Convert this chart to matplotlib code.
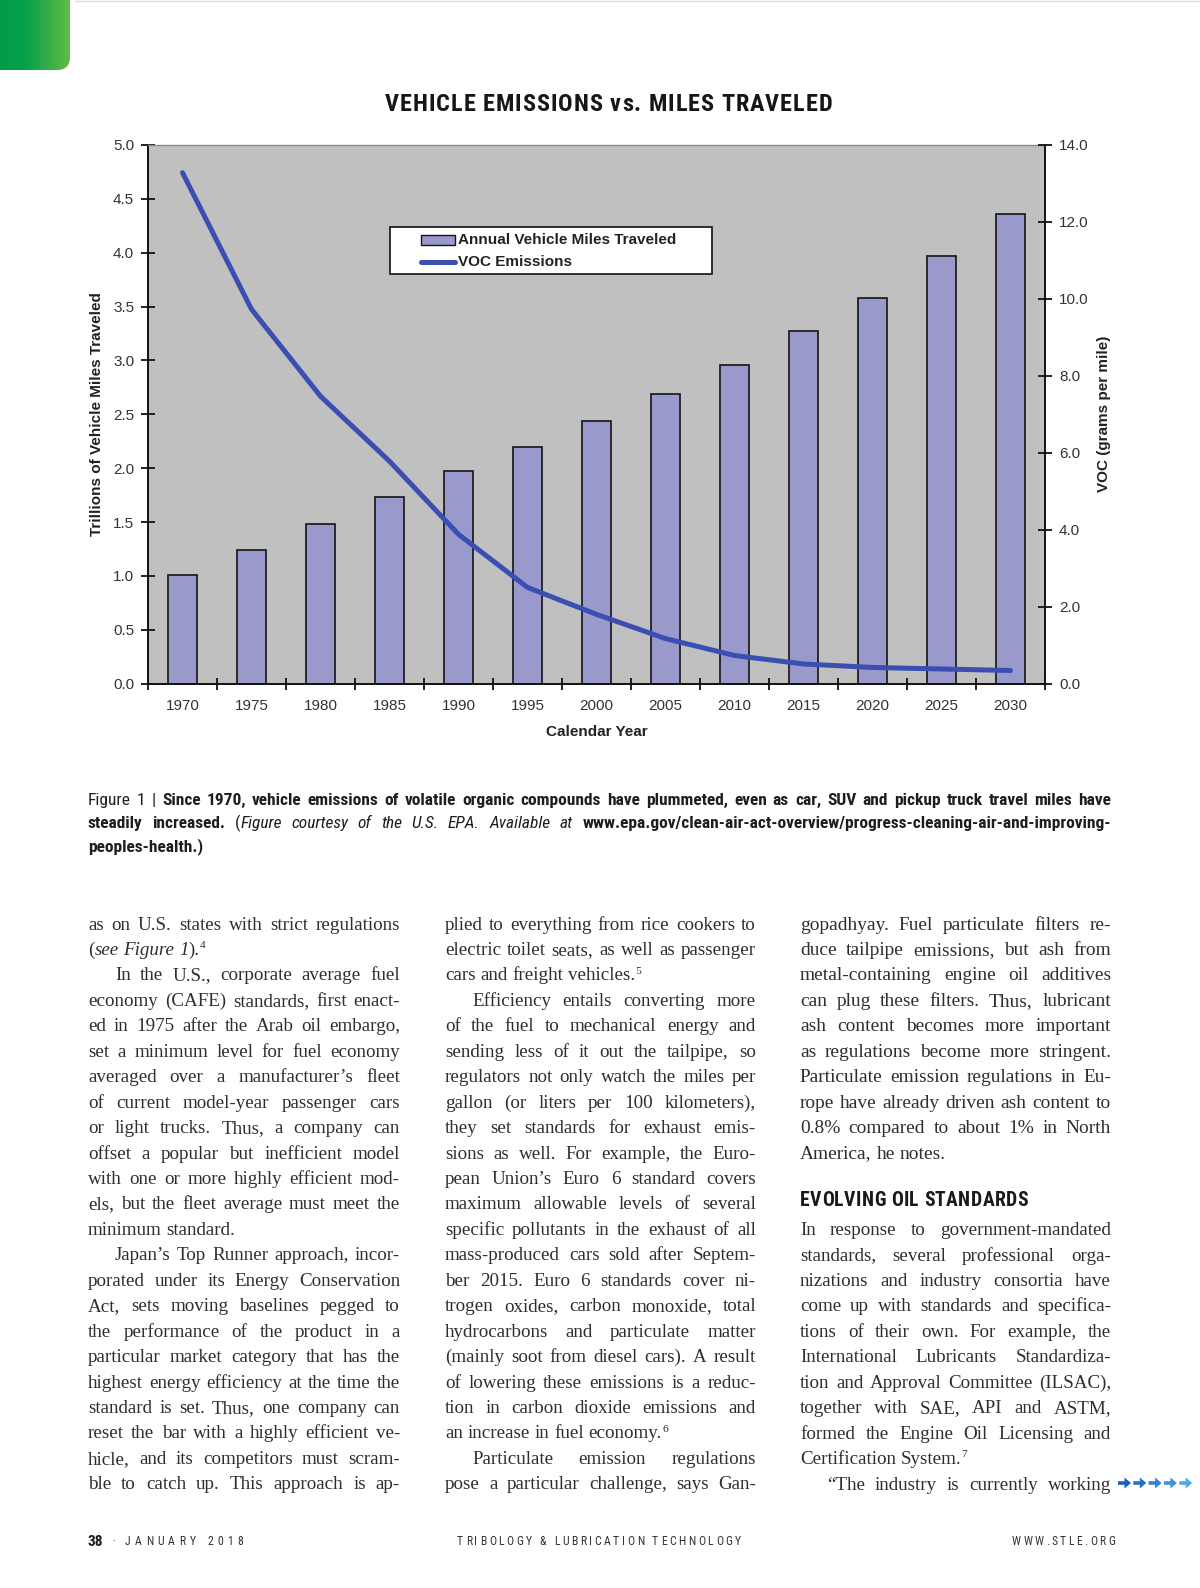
import numpy as np
import matplotlib
matplotlib.use("Agg")
import matplotlib.pyplot as plt
from matplotlib import font_manager
from matplotlib.font_manager import FontProperties, findfont, get_font
from matplotlib.patches import Rectangle, FancyBboxPatch, Polygon
from matplotlib.lines import Line2D
from matplotlib.colors import LinearSegmentedColormap

W, H = 1200, 1588

# ---- chart data ----
years = ["1970", "1975", "1980", "1985", "1990", "1995", "2000",
         "2005", "2010", "2015", "2020", "2025", "2030"]
miles_trillions = [1.01, 1.24, 1.48, 1.73, 1.97, 2.20, 2.44,
                   2.69, 2.96, 3.27, 3.58, 3.97, 4.36]
voc_g_per_mile = [13.28, 9.73, 7.47, 5.78, 3.88, 2.50, 1.80,
                  1.17, 0.73, 0.51, 0.42, 0.38, 0.34]
left_ticks = [0.0, 0.5, 1.0, 1.5, 2.0, 2.5, 3.0, 3.5, 4.0, 4.5, 5.0]
right_ticks = [0.0, 2.0, 4.0, 6.0, 8.0, 10.0, 12.0, 14.0]

# ---- page text ----
caption_lines = [
    "Figure 1 | ~Since 1970, vehicle emissions of volatile organic compounds have plummeted, even as car, SUV and pickup truck travel miles have~",
    "~steadily increased.~ (_Figure courtesy of the U.S. EPA. Available at_ ~www.epa.gov/clean-air-act-overview/progress-cleaning-air-and-improving-~",
    "~peoples-health.)~$",
]
col1_lines = [
    "as on U.S. states with strict regulations",
    "(_see Figure 1_).^4^$",
    ">In the U.S., corporate average fuel",
    "economy (CAFE) standards, first enact-",
    "ed in 1975 after the Arab oil embargo,",
    "set a minimum level for fuel economy",
    "averaged over a manufacturer’s fleet",
    "of current model-year passenger cars",
    "or light trucks. Thus, a company can",
    "offset a popular but inefficient model",
    "with one or more highly efficient mod-",
    "els, but the fleet average must meet the",
    "minimum standard.$",
    ">Japan’s Top Runner approach, incor-",
    "porated under its Energy Conservation",
    "Act, sets moving baselines pegged to",
    "the performance of the product in a",
    "particular market category that has the",
    "highest energy efficiency at the time the",
    "standard is set. Thus, one company can",
    "reset the bar with a highly efficient ve-",
    "hicle, and its competitors must scram-",
    "ble to catch up. This approach is ap-",
]
col2_lines = [
    "plied to everything from rice cookers to",
    "electric toilet seats, as well as passenger",
    "cars and freight vehicles.^5^$",
    ">Efficiency entails converting more",
    "of the fuel to mechanical energy and",
    "sending less of it out the tailpipe, so",
    "regulators not only watch the miles per",
    "gallon (or liters per 100 kilometers),",
    "they set standards for exhaust emis-",
    "sions as well. For example, the Euro-",
    "pean Union’s Euro 6 standard covers",
    "maximum allowable levels of several",
    "specific pollutants in the exhaust of all",
    "mass-produced cars sold after Septem-",
    "ber 2015. Euro 6 standards cover ni-",
    "trogen oxides, carbon monoxide, total",
    "hydrocarbons and particulate matter",
    "(mainly soot from diesel cars). A result",
    "of lowering these emissions is a reduc-",
    "tion in carbon dioxide emissions and",
    "an increase in fuel economy.^6^$",
    ">Particulate emission regulations",
    "pose a particular challenge, says Gan-",
]
col3a_lines = [
    "gopadhyay. Fuel particulate filters re-",
    "duce tailpipe emissions, but ash from",
    "metal-containing engine oil additives",
    "can plug these filters. Thus, lubricant",
    "ash content becomes more important",
    "as regulations become more stringent.",
    "Particulate emission regulations in Eu-",
    "rope have already driven ash content to",
    "0.8% compared to about 1% in North",
    "America, he notes.$",
]
col3b_lines = [
    "In response to government-mandated",
    "standards, several professional orga-",
    "nizations and industry consortia have",
    "come up with standards and specifica-",
    "tions of their own. For example, the",
    "International Lubricants Standardiza-",
    "tion and Approval Committee (ILSAC),",
    "together with SAE, API and ASTM,",
    "formed the Engine Oil Licensing and",
    "Certification System.^7^$",
    ">“The industry is currently working",
]

installed = {f.name for f in font_manager.fontManager.ttflist}


def first_font(cands, default):
    for c in cands:
        if c in installed:
            return c
    return default


SANS = first_font(["Liberation Sans", "Arial"], "DejaVu Sans")
COND = first_font(["Roboto Condensed", "Liberation Sans Narrow", "Open Sans Condensed"], "DejaVu Sans")
SERIF = first_font(["Liberation Serif"], "DejaVu Serif")

plt.rcParams["font.family"] = [SANS, "DejaVu Sans"]

fig = plt.figure(figsize=(W / 100, H / 100), dpi=100)
fig.patch.set_facecolor("white")
R = fig.canvas.get_renderer()


def tw(s, prop):
    w, h, d = R.get_text_width_height_descent(s, prop, ismath=False)
    return w


def ftext(x, y, s, **kw):
    return fig.text(x / W, 1 - y / H, s, **kw)


# ---- green corner tab ----
gax = fig.add_axes([-20 / W, 1 - 70 / H, 90 / W, 90 / H])
gax.set_xlim(-20, 70)
gax.set_ylim(70, -20)
gax.axis("off")
cmap = LinearSegmentedColormap.from_list("tab", ["#009a4c", "#05a04b", "#62bb46"])
im = gax.imshow(np.linspace(0, 1, 256)[None, :], extent=[-20, 70, 70, -20],
                cmap=cmap, aspect="auto")
clip = FancyBboxPatch((-20, -20), 90, 90, boxstyle="round,pad=0,rounding_size=13",
                      transform=gax.transData, fc="none", ec="none")
gax.add_patch(clip)
im.set_clip_path(clip)
fig.add_artist(Line2D([75 / W, 1], [1 - 1.2 / H, 1 - 1.2 / H], color="#dedede", lw=1))

# ---- chart ----
L, RX, T, B = 148, 1045, 145, 683.6
ax = fig.add_axes([L / W, 1 - B / H, (RX - L) / W, (B - T) / H])
ax.set_facecolor("#c0c0c0")
xpos = np.arange(len(years))
ax.bar(xpos, miles_trillions, width=0.41, color="#9999cc", edgecolor="#141414",
       linewidth=1.2, zorder=2)
ax.set_xlim(-0.5, len(years) - 0.5)
ax.set_ylim(0, 5)
ax.set_xticks(xpos)
ax.set_xticklabels(years)
ax.set_xticks(np.arange(len(years) + 1) - 0.5, minor=True)
ax.tick_params(axis="x", which="major", length=0, pad=11, labelsize=11, labelcolor="#333333")
ax.tick_params(axis="x", which="minor", direction="inout", length=9, width=1.3, color="#111111")
ax.set_yticks(left_ticks)
ax.set_yticklabels([f"{v:.1f}" for v in left_ticks])
ax.tick_params(axis="y", direction="inout", length=10, width=1.3, pad=5,
               labelsize=11, labelcolor="#333333", color="#111111")
for s in ("left", "bottom"):
    ax.spines[s].set_color("#111111")
    ax.spines[s].set_linewidth(1.4)
ax.spines["top"].set_color("#8a8a8a")
ax.spines["top"].set_linewidth(1.0)
ax.spines["right"].set_visible(False)

ax2 = ax.twinx()
ax2.plot(xpos, voc_g_per_mile, color="#3a4fb1", lw=3.6,
         solid_capstyle="round", solid_joinstyle="round", zorder=3)
ax2.set_ylim(0, 14)
ax2.set_yticks(right_ticks)
ax2.set_yticklabels([f"{v:.1f}" for v in right_ticks])
ax2.tick_params(axis="y", direction="inout", length=10, width=1.3, pad=5,
                labelsize=11, labelcolor="#333333", color="#111111")
for s in ("left", "top", "bottom"):
    ax2.spines[s].set_visible(False)
ax2.spines["right"].set_color("#111111")
ax2.spines["right"].set_linewidth(1.4)

ax.set_xlabel("Calendar Year", fontsize=11, fontweight="bold", color="#222222", va="center")
ax.xaxis.set_label_coords(0.5, (B - 732) / (B - T))
ax.set_ylabel("Trillions of Vehicle Miles Traveled", fontsize=11, fontweight="bold",
              color="#222222", va="center")
ax.yaxis.set_label_coords((97 - L) / (RX - L), 0.5)
ax2.set_ylabel("VOC (grams per mile)", fontsize=11, fontweight="bold", color="#222222",
               va="center", rotation=90)
ax2.yaxis.set_label_coords((1104 - L) / (RX - L), 0.5)

# legend box
fig.add_artist(Rectangle((390 / W, 1 - 274 / H), 322 / W, 47 / H, transform=fig.transFigure,
                         fc="white", ec="#111111", lw=1.2, zorder=5))
fig.add_artist(Rectangle((421 / W, 1 - 244.5 / H), 34 / W, 10 / H, transform=fig.transFigure,
                         fc="#9999cc", ec="#141414", lw=1.0, zorder=6))
fig.add_artist(Line2D([421 / W, 455 / W], [1 - 262 / H, 1 - 262 / H], color="#3a4fb1",
                      lw=3.6, solid_capstyle="round", zorder=6))
ftext(458, 240, "Annual Vehicle Miles Traveled", fontsize=11, fontweight="bold",
      color="#222222", va="center", zorder=7)
ftext(458, 262, "VOC Emissions", fontsize=11, fontweight="bold",
      color="#222222", va="center", zorder=7)


# ---- text helpers ----
def advances(text, prop):
    font = get_font(findfont(prop))
    font.set_size(prop.get_size_in_points(), 100)
    out = []
    for c in text:
        g = font.load_char(ord(c))
        out.append(g.linearHoriAdvance / 65536)
    return out


def draw_spread(text, x0, x1, yb, prop, color):
    span = x1 - x0
    adv = advances(text, prop)
    total = sum(adv[:-1]) + tw(text[-1], prop)
    if total > span:
        prop = prop.copy()
        prop.set_size(prop.get_size_in_points() * span / total * 0.96)
        adv = advances(text, prop)
        total = sum(adv[:-1]) + tw(text[-1], prop)
    track = (span - total) / (len(text) - 1)
    x = x0
    for c, a in zip(text, adv):
        if c != " ":
            ftext(x, yb, c, fontproperties=prop, color=color, ha="left", va="baseline")
        x += a + track


MARK = {"~": "bold", "_": "ital", "^": "sup"}


def parse_words(line):
    state = {"bold": False, "ital": False, "sup": False}
    words = []
    for tok in line.split(" "):
        segs, buf = [], ""
        for ch in tok:
            if ch in MARK:
                if buf:
                    segs.append((buf, dict(state)))
                    buf = ""
                state[MARK[ch]] = not state[MARK[ch]]
            else:
                buf += ch
        if buf:
            segs.append((buf, dict(state)))
        if segs:
            words.append(segs)
    return words


def make_prop(family, size, st):
    return FontProperties(family=family, size=size * (0.6 if st["sup"] else 1.0),
                          weight="bold" if st["bold"] else "normal",
                          style="italic" if st["ital"] else "normal")


def layout(lines, family, size):
    rows = []
    base = make_prop(family, size, {"bold": False, "ital": False, "sup": False})
    space = tw("n n", base) - tw("nn", base)
    for raw in lines:
        ind = raw.startswith(">")
        last = raw.endswith("$")
        words = []
        for segs in parse_words(raw.strip(">$")):
            items = []
            for s, st in segs:
                p = make_prop(family, size, st)
                items.append((s, p, st["sup"], tw(s, p)))
            words.append(items)
        rows.append((ind, last, words))
    return rows, space


def draw_block(lines, x0, x1, yb0, dy, family, size, color, indent):
    rows, space = layout(lines, family, size)
    worst = 0
    for ind, last, words in rows:
        nat = sum(sum(i[3] for i in w) for w in words) + space * (len(words) - 1)
        worst = max(worst, (nat + (indent if ind else 0)) / (x1 - x0))
    if worst > 0.985:
        size *= 0.985 / worst
        rows, space = layout(lines, family, size)
    raise_px = size * 0.36 * 100 / 72
    for k, (ind, last, words) in enumerate(rows):
        yb = yb0 + k * dy
        start = x0 + (indent if ind else 0)
        wsum = sum(sum(i[3] for i in w) for w in words)
        if last or len(words) < 2:
            gap = space
        else:
            gap = (x1 - start - wsum) / (len(words) - 1)
        x = start
        for w in words:
            for s, p, sup, wd in w:
                ftext(x + (0.3 if sup else 0), yb - (raise_px if sup else 0), s,
                      fontproperties=p, color=color, ha="left", va="baseline")
                x += wd
            x += gap


# ---- title ----
draw_spread("VEHICLE EMISSIONS vs. MILES TRAVELED", 385, 832, 111,
            FontProperties(family=[COND, "DejaVu Sans"], size=17.5, weight="bold"), "#161616")

# ---- caption ----
draw_block(caption_lines, 88, 1111, 805, 23.2, [COND, "DejaVu Sans"], 12.5, "#1e1e1e", 0)

# ---- body columns ----
BODY = [SERIF, "DejaVu Serif"]
DY = 25.45
BS = 14.0
draw_block(col1_lines, 88, 400, 929.5, DY, BODY, BS, "#2e2e2e", 27)
draw_block(col2_lines, 445, 756, 929.5, DY, BODY, BS, "#2e2e2e", 27)
draw_block(col3a_lines, 800, 1111, 929.5, DY, BODY, BS, "#2e2e2e", 27)
draw_spread("EVOLVING OIL STANDARDS", 800, 1028, 1206,
            FontProperties(family=[COND, "DejaVu Sans"], size=16.5, weight="bold"), "#1a1a1a")
draw_block(col3b_lines, 800, 1111, 1229.1 + 6, DY, BODY, BS, "#2e2e2e", 27)

# continuation arrows
arrow_cols = ["#1b5fb8", "#2470c6", "#2f82d4", "#3d95e0", "#4ea8ea"]
for i, c in enumerate(arrow_cols):
    x0 = 1118 + i * 15.3
    yc = 1483
    pts = [(x0, yc - 1.8), (x0 + 6.5, yc - 1.8), (x0 + 6.5, yc - 5.5), (x0 + 13, yc),
           (x0 + 6.5, yc + 5.5), (x0 + 6.5, yc + 1.8), (x0, yc + 1.8)]
    fig.add_artist(Polygon([(px / W, 1 - py / H) for px, py in pts], closed=True,
                           transform=fig.transFigure, fc=c, ec="none"))

# ---- footer ----
foot = FontProperties(family=[COND, "DejaVu Sans"], size=8.5)
ftext(88, 1545.5, "38", fontproperties=FontProperties(family=[COND, "DejaVu Sans"], size=11,
                                                       weight="bold"),
      color="#1a1a1a", ha="left", va="baseline")
ftext(114, 1542, "·", fontproperties=foot, color="#333333", ha="center", va="center")
draw_spread("JANUARY 2018", 125, 243, 1545, foot, "#333333")
draw_spread("TRIBOLOGY & LUBRICATION TECHNOLOGY", 457, 741, 1545, foot, "#333333")
draw_spread("WWW.STLE.ORG", 1012, 1115, 1545, foot, "#333333")

fig.savefig("out.png", dpi=100, facecolor="white")
